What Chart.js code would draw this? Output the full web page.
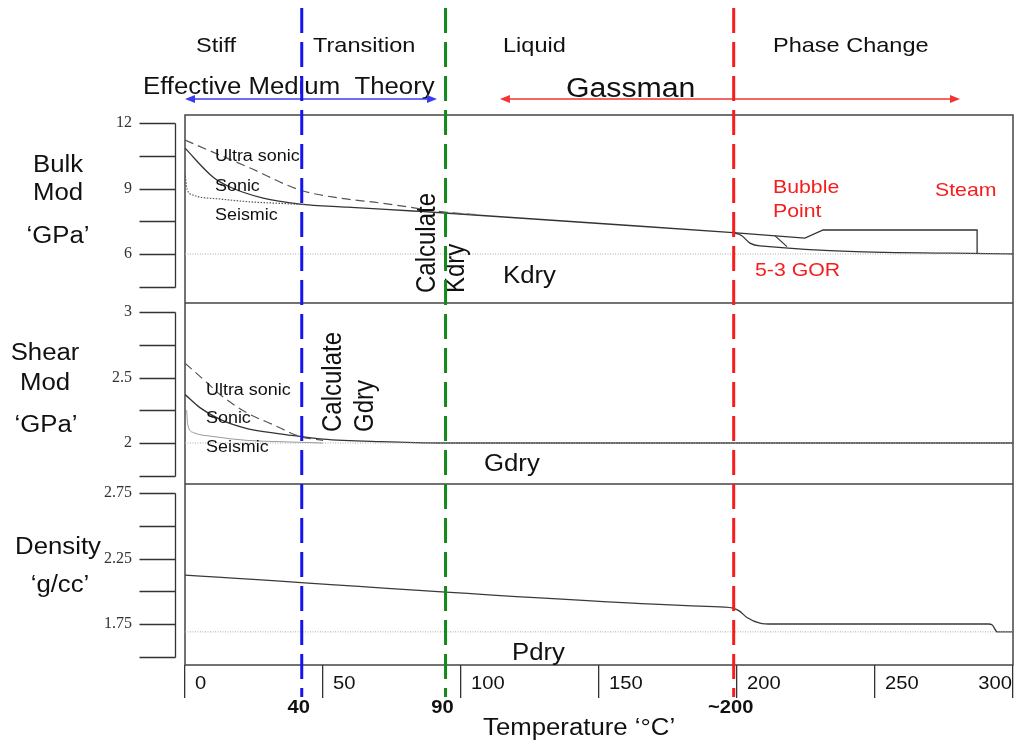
<!DOCTYPE html>
<html>
<head>
<meta charset="utf-8">
<script src="https://cdn.jsdelivr.net/npm/chart.js@4"></script>
<style>
html, body { margin: 0; padding: 0; background: #fff; }
#wrap { width: 1016px; height: 743px; position: relative; }
</style>
</head>
<body>
<div id="wrap"><canvas id="chart"></canvas></div>
<script>
// temperature axis
var tempTicks = [0, 50, 100, 150, 200, 250, 300];
var zoneBounds = [42.3, 94.4, 198.8];
var zoneBoundLabels = ['40', '90', '~200'];
var emtSpan = [0, 91.3];
var gassmanSpan = [114.1, 280.8];

// y ticks of the three panels
var bulkTicks = [12, 10.5, 9, 7.5, 6, 4.5];
var bulkTickLabels = [12, 9, 6];
var shearTicks = [3, 2.75, 2.5, 2.25, 2, 1.75];
var shearTickLabels = [3, 2.5, 2];
var densTicks = [2.75, 2.5, 2.25, 2, 1.75, 1.5];
var densTickLabels = [2.75, 2.25, 1.75];

// bulk modulus (GPa)
var bulkSonicT = [0, 10.1, 16.3, 28.3, 41.7, 58.7, 82.6, 94.2, 198.6];
var bulkSonicK = [10.85, 9.53, 9.07, 8.56, 8.29, 8.15, 7.97, 7.88, 6.98];
var bulkUltraT = [0, 10.1, 23.6, 41.7, 56.2, 70.7, 94.2, 106.9];
var bulkUltraK = [11.22, 10.67, 9.94, 8.93, 8.56, 8.34, 7.92, 7.79];
var bulkSeisT = [0, 0.8, 3, 5.4, 12.7, 22.5, 34.4, 44.2];
var bulkSeisK = [9.7, 8.95, 8.7, 8.61, 8.52, 8.4, 8.32, 8.26];
var bulkSteamT = [198.6, 224.6, 231.2, 287, 287];
var bulkSteamK = [6.98, 6.73, 7.1, 7.1, 6.04];
var bulkGorT = [198.6, 201.5, 204.7, 208.3, 300];
var bulkGorK = [6.98, 6.86, 6.5, 6.37, 6.0];
var bulkBubbleT = [213.8, 218.1];
var bulkBubbleK = [6.83, 6.34];
var bulkRefT = [0, 300];
var bulkRefK = [6, 6];

// shear modulus (GPa)
var shearSonicT = [0, 5.4, 12.7, 22.5, 34.4, 41.7, 50, 70.7, 92.4, 300];
var shearSonicG = [2.37, 2.27, 2.18, 2.11, 2.07, 2.05, 2.03, 2.01, 2.0, 2.0];
var shearUltraT = [0, 8.0, 12.7, 22.5, 31.9, 41.7, 50];
var shearUltraG = [2.61, 2.46, 2.37, 2.23, 2.14, 2.05, 2.02];
var shearSeisT = [0.6, 1.0, 3.0, 10.1, 22.5, 34.4, 50];
var shearSeisG = [2.25, 2.14, 2.08, 2.05, 2.02, 2.01, 2.0];
var shearRefT = [0, 300];
var shearRefG = [2, 2];

// density (g/cc)
var densT = [0, 189, 198.6, 200.8, 203.6, 208.3, 212.7, 291, 292.5, 294.3, 300];
var densP = [2.124, 1.884, 1.872, 1.85, 1.8, 1.757, 1.75, 1.75, 1.742, 1.69, 1.69];
var densRefT = [0, 300];
var densRefP = [1.69, 1.69];

function pts(xs, ys) {
    return xs.map(function (x, i) { return {x: x, y: ys[i]}; });
}

function series(label, axis, xs, ys, color, width, dash, smooth) {
    return {
        label: label,
        xAxisID: 'x',
        yAxisID: axis,
        data: pts(xs, ys),
        borderColor: color,
        borderWidth: width,
        borderDash: dash || [],
        pointRadius: 0,
        fill: false,
        tension: 0,
        cubicInterpolationMode: smooth ? 'monotone' : 'default'
    };
}

var SANS = '"Liberation Sans", Arial, sans-serif';
var SX = 1.12;

function say(ctx, str, x, y, size, o) {
    o = o || {};
    ctx.save();
    ctx.font = (o.bold ? 'bold ' : '') + size + 'px ' + SANS;
    ctx.fillStyle = o.color || '#111';
    ctx.textAlign = o.align || 'left';
    ctx.textBaseline = 'alphabetic';
    ctx.translate(x, y);
    ctx.scale(SX, 1);
    if (o.rot) ctx.rotate(o.rot);
    ctx.fillText(str, 0, 0);
    ctx.restore();
}

function arrow(ctx, x1, x2, y, color) {
    ctx.save();
    ctx.strokeStyle = color;
    ctx.fillStyle = color;
    ctx.lineWidth = 1.6;
    ctx.beginPath();
    ctx.moveTo(x1 + 6, y);
    ctx.lineTo(x2 - 6, y);
    ctx.stroke();
    [[x1, 1], [x2, -1]].forEach(function (p) {
        ctx.beginPath();
        ctx.moveTo(p[0], y);
        ctx.lineTo(p[0] + 10 * p[1], y - 4);
        ctx.lineTo(p[0] + 10 * p[1], y + 4);
        ctx.closePath();
        ctx.fill();
    });
    ctx.restore();
}

var RED = '#f51d1d', GREEN = '#13891a', BLUE = '#1414ee';
var up = -Math.PI / 2;

// annotation text: [text, x, baseline, size, options]
var notes = [
    ['Stiff', 196, 52, 21], ['Transition', 313, 52, 21], ['Liquid', 503, 52, 21], ['Phase Change', 773, 52, 21],
    ['Effective Medium  Theory', 143, 94, 23], ['Gassman', 566, 97, 27],
    ['Bulk', 58, 172, 23, {align: 'center'}], ['Mod', 58, 200, 23, {align: 'center'}], ['\u2018GPa\u2019', 58, 243, 23, {align: 'center'}],
    ['Shear', 45, 360, 23, {align: 'center'}], ['Mod', 45, 390, 23, {align: 'center'}], ['\u2018GPa\u2019', 46, 432, 23, {align: 'center'}],
    ['Density', 58, 554, 23, {align: 'center'}], ['\u2018g/cc\u2019', 60, 592, 23, {align: 'center'}],
    ['Ultra sonic', 215, 161, 16], ['Sonic', 215, 191, 16], ['Seismic', 215, 220, 16],
    ['Ultra sonic', 206, 395, 16], ['Sonic', 206, 423, 16], ['Seismic', 206, 452, 16],
    ['Calculate', 435, 293, 24, {rot: up}], ['Kdry', 464, 293, 24, {rot: up}],
    ['Calculate', 341, 432, 24, {rot: up}], ['Gdry', 373, 432, 24, {rot: up}],
    ['Kdry', 503, 283, 23], ['Gdry', 484, 471, 23], ['Pdry', 512, 660, 23],
    ['Bubble', 773, 193, 19, {color: RED}], ['Point', 773, 217, 19, {color: RED}],
    ['Steam', 935, 196, 19, {color: RED}], ['5-3 GOR', 755, 276, 19, {color: RED}],
    ['Temperature \u2018\u00b0C\u2019', 483, 735, 23]
];

var decor = {
    id: 'decor',
    beforeDatasetsDraw: function (chart) {
        var ctx = chart.ctx, a = chart.chartArea, s = chart.scales;
        ctx.save();
        ctx.strokeStyle = '#444';
        ctx.lineWidth = 1.5;
        ctx.strokeRect(a.left, a.top, a.right - a.left, a.bottom - a.top);
        ctx.beginPath();
        [s.yShear.top, s.yDens.top].forEach(function (y) {
            ctx.moveTo(a.left, y);
            ctx.lineTo(a.right, y);
        });
        ctx.stroke();
        ctx.strokeStyle = '#333';
        ctx.lineWidth = 1.3;
        [['yBulk', bulkTicks], ['yShear', shearTicks], ['yDens', densTicks]].forEach(function (p) {
            var sc = s[p[0]], bx = a.left - 9.5;
            var ys = p[1].map(function (v) { return Math.round(sc.getPixelForValue(v)) + 0.5; });
            ctx.beginPath();
            ctx.moveTo(bx, Math.min.apply(null, ys));
            ctx.lineTo(bx, Math.max.apply(null, ys));
            ys.forEach(function (y) {
                ctx.moveTo(bx - 36, y);
                ctx.lineTo(bx, y);
            });
            ctx.stroke();
        });
        ctx.restore();
    },
    afterDatasetsDraw: function (chart) {
        var ctx = chart.ctx, x = chart.scales.x;
        notes.forEach(function (n) { say(ctx, n[0], n[1], n[2], n[3], n[4]); });

        tempTicks.forEach(function (v, i) {
            var px = x.getPixelForValue(v);
            if (i === tempTicks.length - 1) {
                say(ctx, String(v), px - 1, 689, 18, {align: 'right'});
            } else {
                say(ctx, String(v), px + 10, 689, 18);
            }
        });

        arrow(ctx, x.getPixelForValue(emtSpan[0]), x.getPixelForValue(emtSpan[1]), 99, '#3b3bf0');
        arrow(ctx, x.getPixelForValue(gassmanSpan[0]), x.getPixelForValue(gassmanSpan[1]), 99, '#f23434');

        var colors = [BLUE, GREEN, RED];
        zoneBounds.forEach(function (v, i) {
            var px = x.getPixelForValue(v);
            ctx.save();
            ctx.strokeStyle = colors[i];
            ctx.lineWidth = 3;
            ctx.setLineDash([25, 9]);
            ctx.beginPath();
            ctx.moveTo(px, 8);
            ctx.lineTo(px, 697);
            ctx.stroke();
            ctx.restore();
            say(ctx, zoneBoundLabels[i], px - 3, 713, 18, {bold: true, align: 'center'});
        });
    }
};

function yAxis(weight, stackWeight, min, max, ticks, labels) {
    return {
        type: 'linear',
        position: 'left',
        stack: 'panels',
        stackWeight: stackWeight,
        weight: weight,
        min: min,
        max: max,
        afterFit: function (scale) { scale.width = 185; },
        afterBuildTicks: function (scale) {
            scale.ticks = ticks.map(function (v) { return {value: v}; });
        },
        ticks: {
            autoSkip: false,
            padding: 53,
            color: '#333',
            font: {family: '"Liberation Serif", "Times New Roman", serif', size: 16},
            callback: function (v) { return labels.indexOf(v) >= 0 ? String(v) : ''; }
        },
        grid: {display: false, drawTicks: false},
        border: {display: false}
    };
}

var datasets = [
    series('Bulk reference', 'yBulk', bulkRefT, bulkRefK, '#aaa', 1, [1, 1.5], false),
    series('Shear reference', 'yShear', shearRefT, shearRefG, '#aaa', 1, [1, 1.5], false),
    series('Density reference', 'yDens', densRefT, densRefP, '#aaa', 1, [1, 1.5], false),
    series('Bulk ultra sonic', 'yBulk', bulkUltraT, bulkUltraK, '#555', 1.2, [9, 5], true),
    series('Bulk seismic', 'yBulk', bulkSeisT, bulkSeisK, '#555', 1.2, [1.5, 1.5], true),
    series('Bulk sonic', 'yBulk', bulkSonicT, bulkSonicK, '#333', 1.3, null, true),
    series('Bulk steam', 'yBulk', bulkSteamT, bulkSteamK, '#333', 1.3, null, false),
    series('Bulk 5-3 GOR', 'yBulk', bulkGorT, bulkGorK, '#333', 1.3, null, true),
    series('Bulk bubble point', 'yBulk', bulkBubbleT, bulkBubbleK, '#333', 1.2, null, false),
    series('Shear ultra sonic', 'yShear', shearUltraT, shearUltraG, '#555', 1.2, [9, 5], true),
    series('Shear seismic', 'yShear', shearSeisT, shearSeisG, '#999', 1, null, true),
    series('Shear sonic', 'yShear', shearSonicT, shearSonicG, '#333', 1.3, null, true),
    series('Density', 'yDens', densT, densP, '#3a3a3a', 1.3, null, true)
];

new Chart(document.getElementById('chart').getContext('2d'), {
    type: 'line',
    data: {datasets: datasets},
    options: {
        responsive: true,
        maintainAspectRatio: false,
        devicePixelRatio: 1,
        animation: false,
        layout: {padding: {top: 115, right: 3, left: 0, bottom: 0}},
        plugins: {legend: {display: false}, tooltip: {enabled: false}},
        scales: {
            x: {
                type: 'linear',
                position: 'bottom',
                min: 0,
                max: 300,
                afterFit: function (scale) { scale.height = 78; },
                ticks: {display: false, stepSize: 50},
                grid: {drawOnChartArea: false, drawTicks: true, tickLength: 33, color: '#333', lineWidth: 1.3},
                border: {display: false}
            },
            yBulk: yAxis(3, 188, 3.755, 12.37, bulkTicks, bulkTickLabels),
            yShear: yAxis(2, 181, 1.687, 3.069, shearTicks, shearTickLabels),
            yDens: yAxis(1, 181, 1.437, 2.819, densTicks, densTickLabels)
        }
    },
    plugins: [decor]
});
</script>
</body>
</html>
